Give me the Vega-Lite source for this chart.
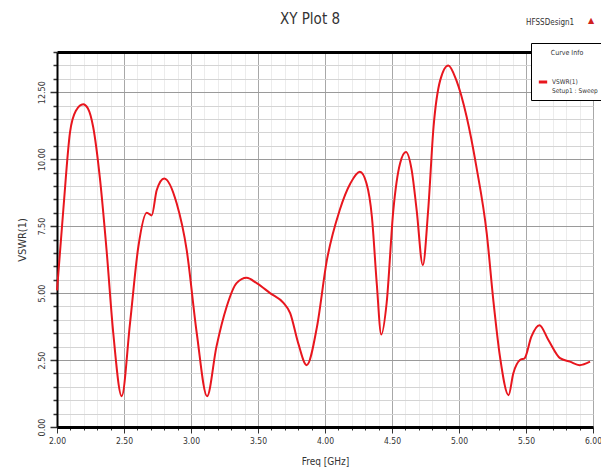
{
  "$schema": "https://vega.github.io/schema/vega-lite/v6.json",
  "width": 536,
  "height": 375,
  "autosize": {"type": "none"},
  "padding": {"left": 57, "top": 52, "right": 8, "bottom": 48},
  "background": "white",
  "config": {
    "font": "Liberation Sans Narrow, DejaVu Sans Condensed, Arial Narrow, Roboto, sans-serif",
    "view": {"stroke": "#c8c8c8"}
  },
  "title": {
    "text": "XY Plot 8",
    "fontSize": 15,
    "fontWeight": "normal",
    "color": "#333333",
    "anchor": "middle",
    "dx": -15,
    "offset": -10
  },
  "data": {
    "values": [
      {"f": 2.000, "v": 5.1, "s": "VSWR(1)"},
      {"f": 2.047, "v": 8.1, "s": "VSWR(1)"},
      {"f": 2.097, "v": 11.0, "s": "VSWR(1)"},
      {"f": 2.140, "v": 11.8, "s": "VSWR(1)"},
      {"f": 2.196, "v": 12.05, "s": "VSWR(1)"},
      {"f": 2.230, "v": 11.9, "s": "VSWR(1)"},
      {"f": 2.270, "v": 11.2, "s": "VSWR(1)"},
      {"f": 2.320, "v": 9.3, "s": "VSWR(1)"},
      {"f": 2.370, "v": 6.6, "s": "VSWR(1)"},
      {"f": 2.420, "v": 3.5, "s": "VSWR(1)"},
      {"f": 2.483, "v": 1.15, "s": "VSWR(1)"},
      {"f": 2.545, "v": 3.88, "s": "VSWR(1)"},
      {"f": 2.607, "v": 6.73, "s": "VSWR(1)"},
      {"f": 2.670, "v": 8.0, "s": "VSWR(1)"},
      {"f": 2.707, "v": 7.9, "s": "VSWR(1)"},
      {"f": 2.744, "v": 8.84, "s": "VSWR(1)"},
      {"f": 2.800, "v": 9.28, "s": "VSWR(1)"},
      {"f": 2.893, "v": 8.35, "s": "VSWR(1)"},
      {"f": 2.968, "v": 6.6, "s": "VSWR(1)"},
      {"f": 3.043, "v": 3.5, "s": "VSWR(1)"},
      {"f": 3.120, "v": 1.15, "s": "VSWR(1)"},
      {"f": 3.190, "v": 3.0, "s": "VSWR(1)"},
      {"f": 3.266, "v": 4.49, "s": "VSWR(1)"},
      {"f": 3.340, "v": 5.37, "s": "VSWR(1)"},
      {"f": 3.415, "v": 5.57, "s": "VSWR(1)"},
      {"f": 3.490, "v": 5.37, "s": "VSWR(1)"},
      {"f": 3.590, "v": 5.0, "s": "VSWR(1)"},
      {"f": 3.690, "v": 4.63, "s": "VSWR(1)"},
      {"f": 3.740, "v": 4.25, "s": "VSWR(1)"},
      {"f": 3.800, "v": 3.13, "s": "VSWR(1)"},
      {"f": 3.863, "v": 2.31, "s": "VSWR(1)"},
      {"f": 3.940, "v": 3.74, "s": "VSWR(1)"},
      {"f": 4.013, "v": 6.2, "s": "VSWR(1)"},
      {"f": 4.110, "v": 8.1, "s": "VSWR(1)"},
      {"f": 4.190, "v": 9.1, "s": "VSWR(1)"},
      {"f": 4.260, "v": 9.53, "s": "VSWR(1)"},
      {"f": 4.310, "v": 9.09, "s": "VSWR(1)"},
      {"f": 4.350, "v": 7.85, "s": "VSWR(1)"},
      {"f": 4.386, "v": 5.37, "s": "VSWR(1)"},
      {"f": 4.420, "v": 3.45, "s": "VSWR(1)"},
      {"f": 4.460, "v": 4.63, "s": "VSWR(1)"},
      {"f": 4.510, "v": 8.1, "s": "VSWR(1)"},
      {"f": 4.560, "v": 9.84, "s": "VSWR(1)"},
      {"f": 4.604, "v": 10.27, "s": "VSWR(1)"},
      {"f": 4.647, "v": 9.59, "s": "VSWR(1)"},
      {"f": 4.684, "v": 8.1, "s": "VSWR(1)"},
      {"f": 4.730, "v": 6.04, "s": "VSWR(1)"},
      {"f": 4.770, "v": 8.1, "s": "VSWR(1)"},
      {"f": 4.810, "v": 11.2, "s": "VSWR(1)"},
      {"f": 4.860, "v": 12.95, "s": "VSWR(1)"},
      {"f": 4.920, "v": 13.5, "s": "VSWR(1)"},
      {"f": 4.980, "v": 12.95, "s": "VSWR(1)"},
      {"f": 5.057, "v": 11.58, "s": "VSWR(1)"},
      {"f": 5.130, "v": 9.71, "s": "VSWR(1)"},
      {"f": 5.207, "v": 7.23, "s": "VSWR(1)"},
      {"f": 5.256, "v": 4.74, "s": "VSWR(1)"},
      {"f": 5.306, "v": 2.62, "s": "VSWR(1)"},
      {"f": 5.370, "v": 1.19, "s": "VSWR(1)"},
      {"f": 5.405, "v": 2.0, "s": "VSWR(1)"},
      {"f": 5.455, "v": 2.5, "s": "VSWR(1)"},
      {"f": 5.490, "v": 2.57, "s": "VSWR(1)"},
      {"f": 5.540, "v": 3.37, "s": "VSWR(1)"},
      {"f": 5.600, "v": 3.8, "s": "VSWR(1)"},
      {"f": 5.667, "v": 3.25, "s": "VSWR(1)"},
      {"f": 5.754, "v": 2.57, "s": "VSWR(1)"},
      {"f": 5.828, "v": 2.44, "s": "VSWR(1)"},
      {"f": 5.900, "v": 2.31, "s": "VSWR(1)"},
      {"f": 5.978, "v": 2.44, "s": "VSWR(1)"}
    ]
  },
  "layer": [
    {
      "mark": {"type": "line", "strokeWidth": 2, "interpolate": "monotone"},
      "encoding": {
        "x": {
          "field": "f",
          "type": "quantitative",
          "scale": {"domain": [2, 6], "nice": false, "zero": false},
          "axis": {
            "title": "Freq [GHz]",
            "titleFontSize": 10,
            "titleFontWeight": "normal",
            "titleColor": "#333333",
            "titlePadding": 12,
            "values": [2.0,2.1,2.2,2.3,2.4,2.5,2.6,2.7,2.8,2.9,3.0,3.1,3.2,3.3,3.4,3.5,3.6,3.7,3.8,3.9,4.0,4.1,4.2,4.3,4.4,4.5,4.6,4.7,4.8,4.9,5.0,5.1,5.2,5.3,5.4,5.5,5.6,5.7,5.8,5.9,6.0],
            "labelExpr": "abs(datum.value*2 - round(datum.value*2)) < 1e-6 ? format(datum.value, '.2f') : ''",
            "labelFontSize": 8.5,
            "labelColor": "#333333",
            "labelPadding": 3,
            "labelFlush": false,
            "labelOverlap": false,
            "labelBound": false,
            "domainColor": "#000000",
            "domainWidth": 3,
            "tickColor": "#333333",
            "tickSize": {"condition": {"test": "abs(datum.value*2 - round(datum.value*2)) < 1e-6", "value": 6}, "value": 3},
            "gridColor": {"condition": {"test": "abs(datum.value*2 - round(datum.value*2)) < 1e-6", "value": "#a8a8a8"}, "value": "#ececec"},
            "gridWidth": 1
          }
        },
        "y": {
          "field": "v",
          "type": "quantitative",
          "scale": {"domain": [0, 14], "nice": false},
          "axis": {
            "title": "VSWR(1)",
            "titleFontSize": 11,
            "titleFontWeight": "normal",
            "titleColor": "#333333",
            "titlePadding": 10,
            "values": [0,0.5,1,1.5,2,2.5,3,3.5,4,4.5,5,5.5,6,6.5,7,7.5,8,8.5,9,9.5,10,10.5,11,11.5,12,12.5,13,13.5,14],
            "labelExpr": "datum.value % 2.5 === 0 ? format(datum.value, '.2f') : ''",
            "labelAngle": -90,
            "labelFontSize": 9,
            "labelColor": "#333333",
            "labelPadding": 4,
            "labelOverlap": false,
            "labelFlush": false,
            "domainColor": "#000000",
            "domainWidth": 2,
            "tickColor": "#333333",
            "tickWidth": 1.5,
            "tickSize": {"condition": {"test": "datum.value % 2.5 === 0", "value": 7}, "value": 4},
            "gridColor": {"condition": {"test": "datum.value % 2.5 === 0", "value": "#9a9a9a"}, "value": "#d4d4d4"},
            "gridWidth": 1
          }
        },
        "color": {
          "field": "s",
          "type": "nominal",
          "scale": {"range": ["#e8161e"]},
          "legend": {
            "orient": "none",
            "legendX": 474,
            "legendY": -9,
            "title": "Curve Info",
            "titleFontSize": 7,
            "titleFontWeight": "normal",
            "titleColor": "#333333",
            "titleAnchor": "middle",
            "titlePadding": 20,
            "labelFontSize": 6.5,
            "labelColor": "#333333",
            "labelOffset": 3,
            "labelExpr": "['VSWR(1)', 'Setup1 : Sweep']",
            "symbolType": "stroke",
            "symbolStrokeWidth": 3,
            "symbolSize": 70,
            "fillColor": "white",
            "strokeColor": "#000000",
            "padding": 6,
            "cornerRadius": 0
          }
        }
      }
    },
    {
      "data": {"values": [{}]},
      "mark": {"type": "text", "fontSize": 8, "color": "#333333", "align": "center"},
      "encoding": {
        "x": {
          "datum": 5.68,
          "type": "quantitative",
          "scale": {"domain": [2, 6], "nice": false, "zero": false},
          "axis": {"orient": "top", "labels": false, "ticks": false, "grid": false, "title": null, "domainColor": "#000000", "domainWidth": 3}
        },
        "y": {"datum": 15.1, "type": "quantitative", "scale": {"domain": [0, 14], "nice": false}, "axis": null},
        "text": {"value": "HFSSDesign1"}
      }
    },
    {
      "data": {"values": [{}]},
      "mark": {"type": "text", "fontSize": 8, "color": "#d02020", "align": "center", "font": "DejaVu Sans"},
      "encoding": {
        "x": {"datum": 5.985, "type": "quantitative", "axis": null},
        "y": {"datum": 15.15, "type": "quantitative", "axis": null},
        "text": {"value": "▲"}
      }
    }
  ],
  "resolve": {"axis": {"x": "independent", "y": "independent"}}
}
